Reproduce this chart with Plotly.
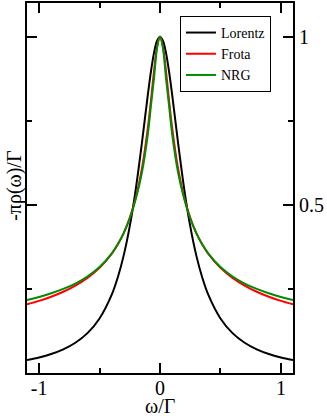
import plotly.graph_objects as go

omega = [-1.1, -1.0, -0.9, -0.8, -0.7, -0.6, -0.5, -0.4, -0.35, -0.3, -0.25, -0.2, -0.15, -0.1, -0.075, -0.05, -0.025,
         0.0, 0.025, 0.05, 0.075, 0.1, 0.15, 0.2, 0.25, 0.3, 0.35, 0.4, 0.5, 0.6, 0.7, 0.8, 0.9, 1.0, 1.1]

lorentz_half = [0.0385, 0.0462, 0.0564, 0.0703, 0.0899, 0.1185, 0.1622, 0.2322, 0.2832, 0.3497, 0.4365, 0.5476,
                0.6826, 0.8288, 0.896, 0.9509, 0.987, 1.0]
frota_half = [0.204, 0.2144, 0.2268, 0.2416, 0.2599, 0.2828, 0.3128, 0.3543, 0.3819, 0.4165, 0.4613, 0.5219,
              0.6066, 0.7304, 0.810, 0.8958, 0.9695, 1.0]
nrg_half = [0.217, 0.226, 0.237, 0.250, 0.266, 0.287, 0.315, 0.355, 0.382, 0.416, 0.460, 0.518,
            0.595, 0.712, 0.795, 0.875, 0.965, 1.0]

lorentz = lorentz_half + lorentz_half[-2::-1]
frota = frota_half + frota_half[-2::-1]
nrg = nrg_half + nrg_half[-2::-1]

series = [("Lorentz", lorentz, "#000000"), ("Frota", frota, "#ff0000"), ("NRG", nrg, "#008c00")]

x_ticks = [-1, 0, 1]
x_ticktext = ["-1", "0", "1"]
y_ticks = [0.5, 1]
y_ticktext = ["0.5", "1"]

FONT = "Liberation Serif"

fig = go.Figure()
for name, vals, col in series:
    fig.add_trace(go.Scatter(x=omega, y=vals, name=name, mode="lines",
                             line=dict(color=col, width=2, shape="spline", smoothing=0.8)))

fig.update_layout(
    width=327, height=418,
    margin=dict(l=27, r=34, t=3, b=45),
    paper_bgcolor="white", plot_bgcolor="white",
    font=dict(family=FONT, size=20, color="black"),
    showlegend=True,
    legend=dict(x=0.575, y=0.965, xanchor="left", yanchor="top",
                bordercolor="black", borderwidth=1, bgcolor="white",
                font=dict(family=FONT, size=14, color="black"), tracegroupgap=0,
                itemwidth=30),
    xaxis=dict(range=[-1.1, 1.1], tickvals=x_ticks, ticktext=x_ticktext, automargin=False,
               ticks="inside", ticklen=10, tickwidth=1.5, tickcolor="black",
               ticklabelstandoff=-4,
               showline=True, linewidth=2, linecolor="black", mirror="allticks",
               showgrid=False, zeroline=False,
               tickfont=dict(family=FONT, size=20),
               minor=dict(tickvals=[-0.5, 0.5], ticks="inside", ticklen=5, tickwidth=1.5, tickcolor="black")),
    yaxis=dict(range=[0, 1.1], tickvals=y_ticks, ticktext=y_ticktext, side="right", automargin=False,
               ticks="inside", ticklen=10, tickwidth=1.5, tickcolor="black",
               showline=True, linewidth=2, linecolor="black", mirror="allticks",
               showgrid=False, zeroline=False,
               tickfont=dict(family=FONT, size=20),
               minor=dict(tickvals=[0.25, 0.75], ticks="inside", ticklen=5, tickwidth=1.5, tickcolor="black")),
    annotations=[
        dict(text="-πρ(ω)/Γ", xref="paper", yref="paper", x=-0.05, y=0.505,
             xanchor="center", yanchor="middle", textangle=-90, showarrow=False,
             font=dict(family=FONT, size=20)),
        dict(text="ω/Γ", xref="paper", yref="paper", x=0.5, y=-0.1216,
             xanchor="center", yanchor="bottom", showarrow=False, borderpad=0,
             font=dict(family=FONT, size=20)),
    ],
)

fig.write_html("out.html", config={"displayModeBar": False},
               post_script="document.body.style.margin='0';document.body.style.padding='0';")
